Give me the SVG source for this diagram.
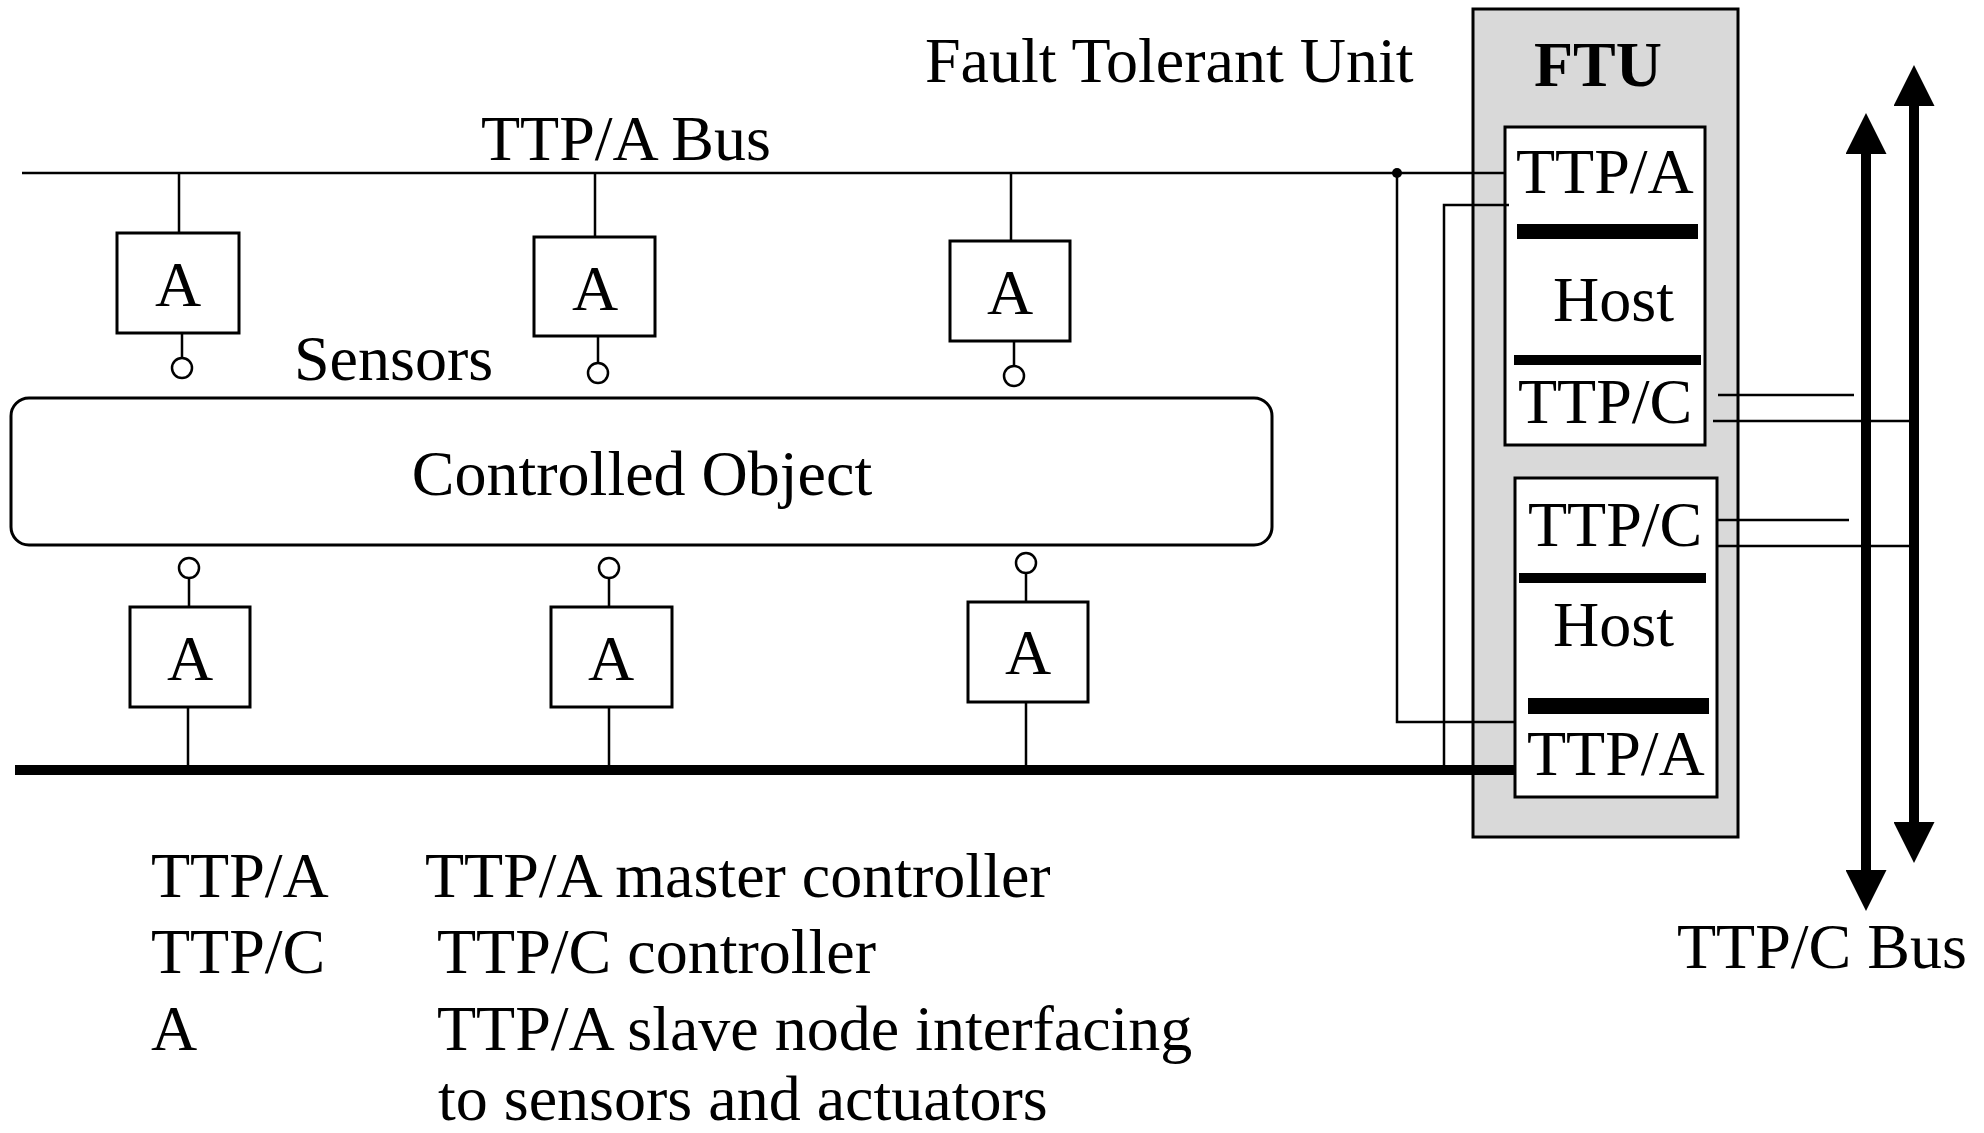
<svg xmlns="http://www.w3.org/2000/svg" width="1984" height="1133" viewBox="0 0 1984 1133">
  <style>
    .t { font-family: "Liberation Serif", "Times New Roman", serif; font-size: 64px; fill: #000; }
    .mid { text-anchor: middle; }
    .box { fill: #fff; stroke: #000; stroke-width: 3; }
    .wire { fill: none; stroke: #000; stroke-width: 2.5; }
    .bus { fill: none; stroke: #000; stroke-width: 10; }
    .port { fill: #fff; stroke: #000; stroke-width: 2.5; }
    .dot { fill: #000; }
    .bar { fill: #000; }
  </style>
  <defs>
    <marker id="head" viewBox="0 0 41 41" refX="0" refY="20.5" markerWidth="41" markerHeight="41" markerUnits="userSpaceOnUse" orient="auto-start-reverse">
      <path d="M0,0 L41,20.5 L0,41 Z" fill="#000"/>
    </marker>
  </defs>

  <rect width="1984" height="1133" fill="#fff"/>

  <!-- Fault tolerant unit enclosure -->
  <g id="ftu">
    <rect x="1473" y="9" width="265" height="828" fill="#d9d9d9" stroke="#000" stroke-width="3"/>
    <text class="t mid" x="1598" y="86" font-weight="bold" font-size="61">FTU</text>
  </g>

  <!-- Upper host: TTP/A master on top, TTP/C below -->
  <g id="ftu-host-1">
    <rect class="box" x="1505" y="127" width="200" height="318"/>
    <text class="t" x="1516" y="193">TTP/A</text>
    <rect class="bar" x="1517" y="224" width="181" height="15"/>
    <text class="t" x="1553" y="321">Host</text>
    <rect class="bar" x="1514" y="355" width="187" height="10"/>
    <text class="t" x="1518" y="423">TTP/C</text>
  </g>

  <!-- Lower host: TTP/C on top, TTP/A master below -->
  <g id="ftu-host-2">
    <rect class="box" x="1515" y="478" width="202" height="319"/>
    <text class="t" x="1528" y="546">TTP/C</text>
    <rect class="bar" x="1519" y="573" width="187" height="10"/>
    <text class="t" x="1553" y="646">Host</text>
    <rect class="bar" x="1528" y="698" width="181" height="16"/>
    <text class="t" x="1527" y="775">TTP/A</text>
  </g>

  <!-- Controlled object -->
  <g id="controlled-object">
    <rect class="box" x="11" y="398" width="1261" height="147" rx="18" ry="18"/>
    <text class="t mid" x="642" y="495">Controlled Object</text>
  </g>

  <!-- Slave nodes above the controlled object (sensors) -->
  <g id="sensor-1">
    <rect class="box" x="117" y="233" width="122" height="100"/>
    <text class="t mid" x="178" y="306">A</text>
  </g>
  <g id="sensor-2">
    <rect class="box" x="534" y="237" width="121" height="99"/>
    <text class="t mid" x="595" y="310">A</text>
  </g>
  <g id="sensor-3">
    <rect class="box" x="950" y="241" width="120" height="100"/>
    <text class="t mid" x="1010" y="314">A</text>
  </g>

  <!-- Slave nodes below the controlled object (actuators) -->
  <g id="actuator-1">
    <rect class="box" x="130" y="607" width="120" height="100"/>
    <text class="t mid" x="190" y="680">A</text>
  </g>
  <g id="actuator-2">
    <rect class="box" x="551" y="607" width="121" height="100"/>
    <text class="t mid" x="611" y="680">A</text>
  </g>
  <g id="actuator-3">
    <rect class="box" x="968" y="602" width="120" height="100"/>
    <text class="t mid" x="1028" y="674">A</text>
  </g>

  <!-- Free-standing labels -->
  <g id="labels">
    <text class="t" x="925" y="82">Fault Tolerant Unit</text>
    <text class="t" x="481" y="160">TTP/A Bus</text>
    <text class="t" x="294" y="380">Sensors</text>
    <text class="t" x="1677" y="968">TTP/C Bus</text>
  </g>

  <!-- Legend -->
  <g id="legend">
    <text class="t" x="151" y="897">TTP/A</text>
    <text class="t" x="425" y="897">TTP/A master controller</text>
    <text class="t" x="151" y="973">TTP/C</text>
    <text class="t" x="437" y="973">TTP/C controller</text>
    <text class="t" x="151" y="1050">A</text>
    <text class="t" x="437" y="1050">TTP/A slave node interfacing</text>
    <text class="t" x="438" y="1120">to sensors and actuators</text>
  </g>

  <!-- Buses, stubs and cross links -->
  <g id="connectors">
    <!-- upper TTP/A bus -->
    <path class="wire" d="M22,173 H1505"/>
    <circle class="dot" cx="1397" cy="173" r="5"/>
    <path class="wire" d="M1397,173 V722 H1515"/>
    <!-- lower TTP/A bus -->
    <path class="bus" d="M15,770 H1515"/>
    <path class="wire" d="M1509,205 H1444 V770"/>
    <circle class="dot" cx="1444" cy="770" r="5"/>

    <!-- sensor stubs -->
    <path class="wire" d="M179,173 V233 M182,333 V358"/>
    <path class="wire" d="M595,173 V237 M598,336 V363"/>
    <path class="wire" d="M1011,173 V241 M1014,341 V366"/>
    <circle class="port" cx="182" cy="368" r="10"/>
    <circle class="port" cx="598" cy="373" r="10"/>
    <circle class="port" cx="1014" cy="376" r="10"/>

    <!-- actuator stubs -->
    <circle class="port" cx="189" cy="568" r="10"/>
    <circle class="port" cx="609" cy="568" r="10"/>
    <circle class="port" cx="1026" cy="563" r="10"/>
    <path class="wire" d="M189,578 V607 M188,707 V770"/>
    <path class="wire" d="M609,578 V607 M609,707 V770"/>
    <path class="wire" d="M1026,573 V602 M1026,702 V770"/>

    <!-- TTP/C links to the replicated TTP/C bus -->
    <path class="wire" d="M1718,395 H1854 M1713,421 H1914"/>
    <path class="wire" d="M1716,520 H1849 M1716,546 H1914"/>

    <!-- replicated TTP/C bus channels -->
    <path class="bus" d="M1866,154 V870" marker-start="url(#head)" marker-end="url(#head)"/>
    <path class="bus" d="M1914,106 V822" marker-start="url(#head)" marker-end="url(#head)"/>
  </g>
</svg>
